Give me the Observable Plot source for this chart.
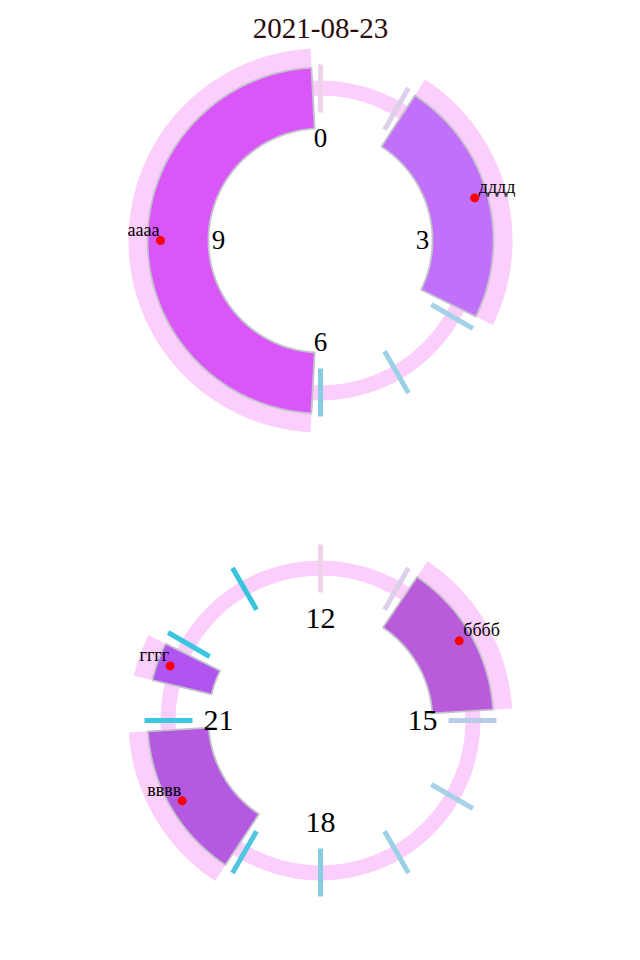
<!DOCTYPE html>
<html><head><meta charset="utf-8">
<script src="https://cdn.jsdelivr.net/npm/d3@7"></script>
<script src="https://cdn.jsdelivr.net/npm/@observablehq/plot@0.6"></script>
<style>body{margin:0;background:#fff}#chart{width:640px;height:960px}</style>
</head><body><div id="chart"></div>
<script>
// ---- data ----
const chartTitle = "2021-08-23";
const dialNames = ["AM", "PM"];
const hourLabels = [0, 3, 6, 9, 12, 15, 18, 21];
const activityNames = ["аааа", "дддд", "бббб", "вввв", "гггг"];
const activityStart = [6.1, 1.1, 13.13, 19.11, 21.45];
const activityEnd = [11.9, 3.87, 14.88, 20.88, 21.88];
const activityColors = ["#d957f8", "#c070fa", "#b95cdc", "#b35ae0", "#b055f0"];
const tickHours = [0, 1, 4, 5, 6, 12, 13, 15, 16, 17, 18, 19, 21, 22, 23];
const tickColors = ["#ecd2ea", "#ddd0ea", "#a6d2e8", "#9cd0e6", "#88cce2",
                    "#eed2ea", "#dcd0ea", "#b8cce8", "#a8d2e8", "#9cd0e6", "#88cce2",
                    "#50c6e0", "#3ec8e0", "#3ac6e0", "#34c4de"];

// ---- styling / geometry (layout, not data) ----
const ringColor = "#fccefb";
const R = {ringMid: 152.5, ringW: 15, tickIn: 128, tickOut: 176, wedgeIn: 112, wedgeOut: 173, bandOut: 192, label: 102, dot: 160};
const dialOf = h => (h < 12 ? "AM" : "PM");
const ang = h => ((h % 12) / 12) * 2 * Math.PI;
const px = (h, r) => r * Math.sin(ang(h));
const py = (h, r) => r * Math.cos(ang(h));

const activities = activityNames.map((name, i) => ({
  name, start: activityStart[i], end: activityEnd[i], color: activityColors[i],
  mid: (activityStart[i] + activityEnd[i]) / 2
}));
const ticks = tickHours.map((h, i) => ({h, color: tickColors[i]}));

function sector(a, r0, r1) {
  const pts = [];
  const n = Math.max(2, Math.ceil((a.end - a.start) * 30));
  for (let i = 0; i <= n; i++) pts.push({h: a.start + (a.end - a.start) * i / n, r: r1});
  for (let i = n; i >= 0; i--) pts.push({h: a.start + (a.end - a.start) * i / n, r: r0});
  pts.push({...pts[0]});
  return pts.map(p => ({...p, id: a.name, color: a.color, dial: dialOf(a.start)}));
}
const bandPts = activities.flatMap(a => sector(a, R.wedgeOut, R.bandOut));
const wedgePts = activities.flatMap(a => sector(a, R.wedgeIn, R.wedgeOut));
const rightSide = activities.filter(a => (a.mid % 12) < 6);
const leftSide = activities.filter(a => (a.mid % 12) >= 6);

const chart = Plot.plot({
  width: 640, height: 960, margin: 0,
  x: {domain: [-320, 320], axis: null},
  y: {domain: [-240, 240], axis: null},
  fy: {domain: dialNames, axis: null, padding: 0},
  color: {type: "identity"},
  style: {fontFamily: "'Liberation Serif', 'Times New Roman', serif", background: "#fff"},
  marks: [
    Plot.dot(dialNames, {x: () => 0, y: () => 0, fy: d => d, r: R.ringMid, fill: "none", stroke: ringColor, strokeWidth: R.ringW}),
    Plot.link(ticks, {
      x1: d => px(d.h, R.tickIn), y1: d => py(d.h, R.tickIn),
      x2: d => px(d.h, R.tickOut), y2: d => py(d.h, R.tickOut),
      stroke: "color", strokeWidth: 5, fy: d => dialOf(d.h)
    }),
    Plot.line(bandPts, {x: d => px(d.h, d.r), y: d => py(d.h, d.r), z: "id", fill: ringColor, stroke: "none", fy: "dial"}),
    Plot.line(wedgePts, {x: d => px(d.h, d.r), y: d => py(d.h, d.r), z: "id", fill: "color", stroke: "#c4c2cc", strokeWidth: 1.8, fy: "dial"}),
    Plot.text(hourLabels, {
      x: h => px(h, R.label), y: h => py(h, R.label), text: h => String(h),
      fy: dialOf, fontSize: h => (h < 12 ? 27 : 30), fill: "#000", lineAnchor: "middle"
    }),
    Plot.dot(activities, {x: d => px(d.mid, R.dot), y: d => py(d.mid, R.dot), fy: d => dialOf(d.start), r: 4.5, fill: "#ff0000", stroke: "none"}),
    Plot.text(rightSide, {x: d => px(d.mid, R.dot), y: d => py(d.mid, R.dot), fy: d => dialOf(d.start), text: "name",
      textAnchor: "start", lineAnchor: "bottom", dx: 4, dy: -5, fontSize: 18, fill: "#000"}),
    Plot.text(leftSide, {x: d => px(d.mid, R.dot), y: d => py(d.mid, R.dot), fy: d => dialOf(d.start), text: "name",
      textAnchor: "end", lineAnchor: "bottom", dx: -1, dy: -5, fontSize: 18, fill: "#000"}),
    Plot.text([chartTitle], {fy: () => "AM", frameAnchor: "top", dy: 28, lineAnchor: "middle", fontSize: 29, fill: "#2a0c0c", text: d => d})
  ]
});
document.getElementById("chart").appendChild(chart);
</script>
</body></html>
